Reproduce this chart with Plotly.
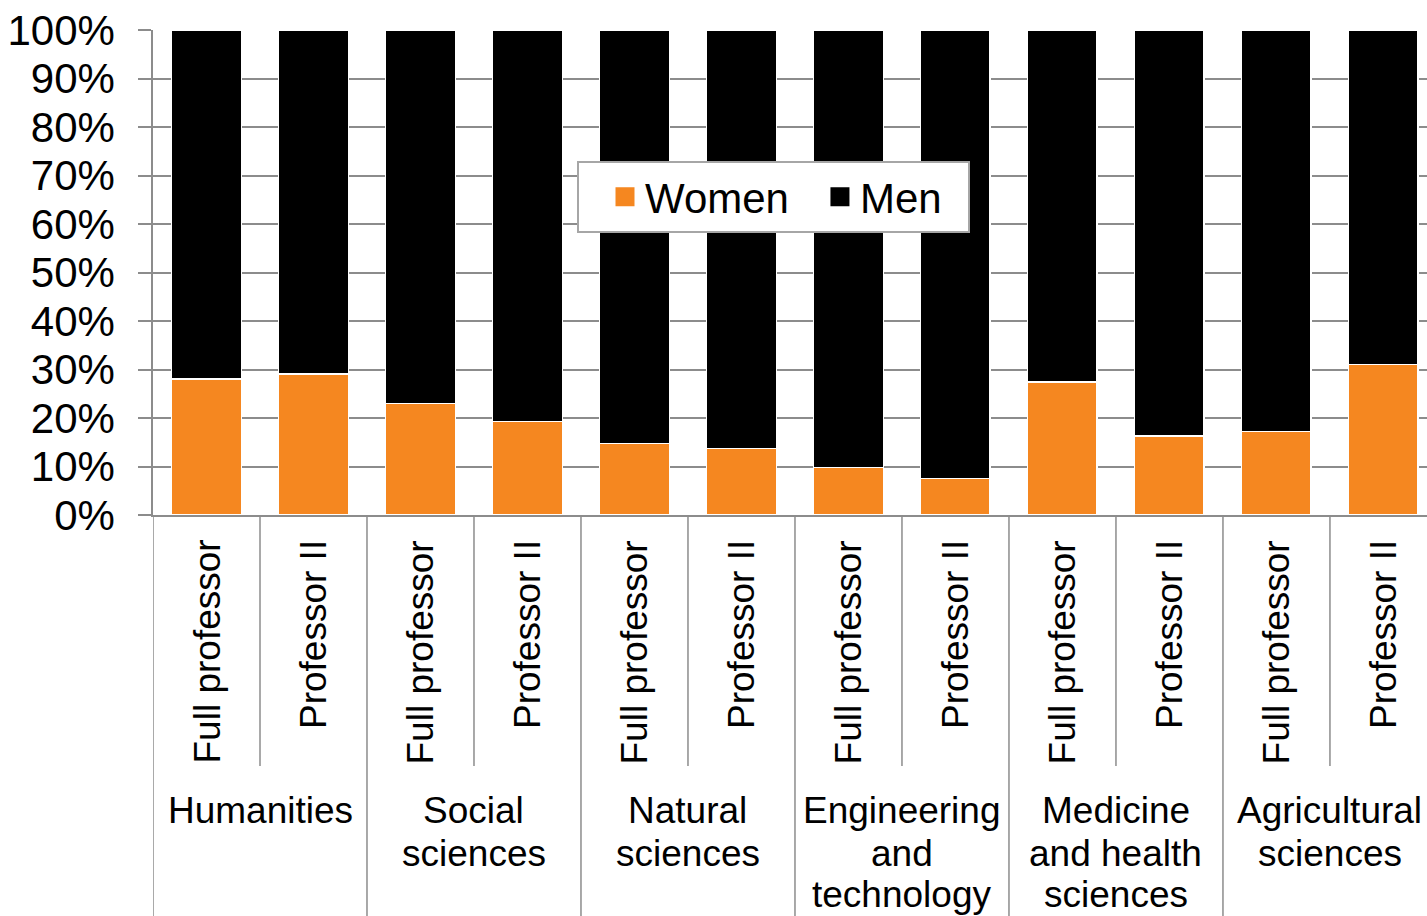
import plotly.graph_objects as go

fields = ["Humanities", "Social sciences", "Natural sciences",
          "Engineering and technology", "Medicine and health sciences",
          "Agricultural sciences"]
field_lines = [["Humanities"], ["Social", "sciences"], ["Natural", "sciences"],
               ["Engineering", "and", "technology"],
               ["Medicine", "and health", "sciences"],
               ["Agricultural", "sciences"]]
positions = ["Full professor", "Professor II"]

women = [28.0, 29.1, 23.0, 19.3, 14.7, 13.7, 9.8, 7.5, 27.4, 16.3, 17.2, 31.0]
men = [100 - w for w in women]

cats = [f"{f}|{p}" for f in fields for p in positions]

ORANGE = "#F58720"
GRID = "#8c8c8c"
FONT = "Liberation Sans, Arial, sans-serif"

fig = go.Figure()
fig.add_trace(go.Bar(x=cats, y=[w / 100 for w in women], name="Women",
                     marker=dict(color=ORANGE, line=dict(color="white", width=1.5)),
                     width=0.65, showlegend=False))
fig.add_trace(go.Bar(x=cats, y=[m / 100 for m in men], name="Men",
                     marker=dict(color="black", line=dict(color="white", width=1.5)),
                     width=0.65, showlegend=False))
# legend entries (larger square swatches); trailing space pads the box on the right
for nm, col in [("Women", ORANGE), ("Men\u2002", "black")]:
    fig.add_trace(go.Scatter(x=[None], y=[None], mode="markers", name=nm,
                             marker=dict(symbol="square", size=16, color=col,
                                         line=dict(color=col, width=3))))

# plot area on screen: y 0% at 515px, 100% at 30px (height 485)
PH = 485.0
def py(pix):
    return (515 - pix) / PH

shapes = []
n = len(cats)
for i in range(n):
    y1 = py(916) if i % 2 == 0 else py(766)
    shapes.append(dict(type="line", xref="x", yref="paper",
                       x0=i - 0.5, x1=i - 0.5, y0=0, y1=y1,
                       line=dict(color=GRID, width=1.5)))

annotations = []
for i, c in enumerate(cats):
    annotations.append(dict(x=c, xref="x", y=py(538), yref="paper",
                            text=c.split("|")[1], textangle=-90,
                            xanchor="center", yanchor="top", showarrow=False,
                            font=dict(family=FONT, size=37, color="black")))
baselines = [823, 866, 908]
for g, lines in enumerate(field_lines):
    for k, t in enumerate(lines):
        annotations.append(dict(x=2 * g + 0.5, xref="x", y=py(baselines[k] - 13), yref="paper",
                                text=t, xanchor="center", yanchor="middle",
                                showarrow=False,
                                font=dict(family=FONT, size=37, color="black")))

fig.update_layout(
    width=1427, height=916,
    margin=dict(l=153, r=0, t=30, b=401),
    barmode="stack",
    paper_bgcolor="white", plot_bgcolor="white",
    font=dict(family=FONT, color="black"),
    shapes=shapes,
    annotations=annotations,
    legend=dict(orientation="h", x=(577 - 153) / 1274, xanchor="left",
                y=py(161), yanchor="top",
                bgcolor="white", bordercolor="#a6a6a6", borderwidth=2,
                font=dict(family=FONT, size=42, color="black"),
                indentation=26,
                traceorder="normal"),
    bargap=0.35,
)
fig.update_xaxes(type="category", range=[-0.5, 11.407], showticklabels=False,
                 ticks="", showgrid=False, showline=True, linecolor=GRID,
                 linewidth=1.5, zeroline=False, fixedrange=True)
fig.update_yaxes(range=[0, 1], tickvals=[i / 10 for i in range(11)],
                 ticktext=[f"{i * 10}%" for i in range(11)],
                 ticks="outside", ticklen=13, tickcolor=GRID, tickwidth=1.5,
                 showgrid=True, gridcolor=GRID, gridwidth=1.5,
                 showline=True, linecolor=GRID, linewidth=1.5, zeroline=False,
                 ticklabelstandoff=15,
                 tickfont=dict(family=FONT, size=42, color="black"))

fig.write_html("out.html", config={"displayModeBar": False},
               post_script="document.body.style.margin='0';document.body.style.overflow='hidden';")
